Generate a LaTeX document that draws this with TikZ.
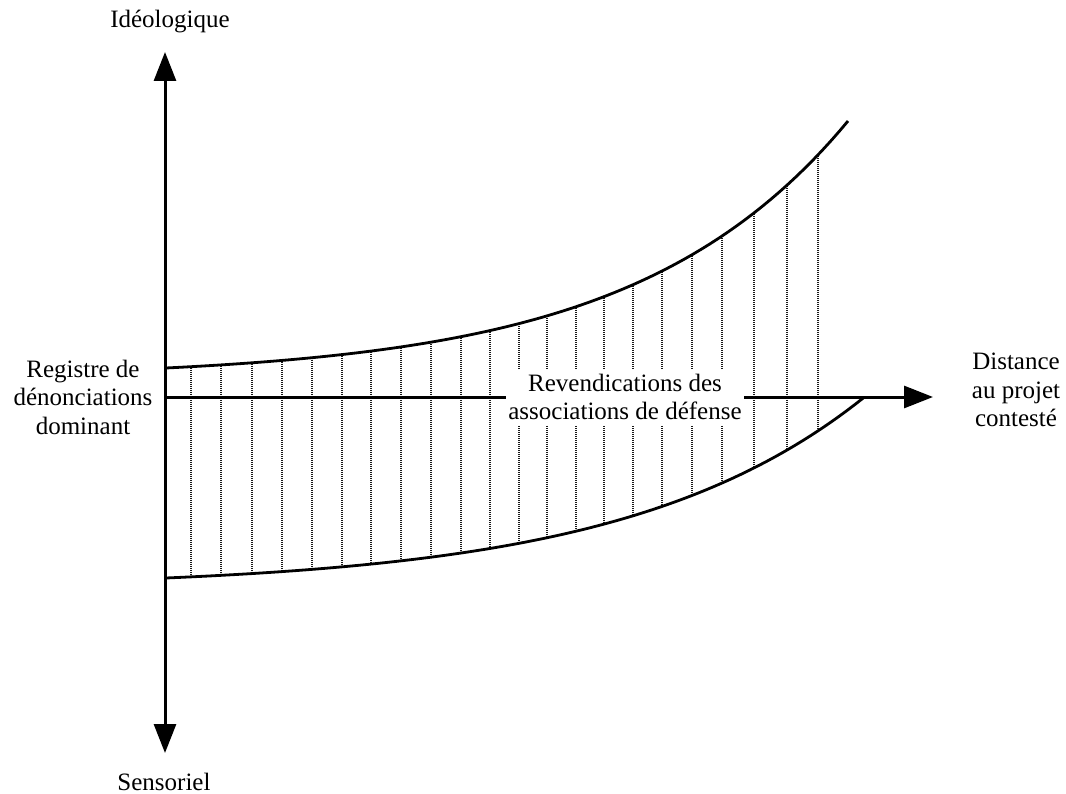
\documentclass[tikz,border=0pt]{standalone}
\usepackage{fontspec}
\setmainfont{Liberation Serif}
\usetikzlibrary{arrows.meta}
\begin{document}
\begin{tikzpicture}[x=1pt,y=-1pt,
  axis/.style={line width=3pt, -{Triangle[length=29pt,width=22pt]}},
  bound/.style={line width=2.8pt, line join=round},
  hatch/.style={line width=1.7pt, draw=black!90, dash pattern=on 1.2pt off 0.8pt},
  lbl/.style={font=\fontsize{25}{28.5}\selectfont, align=center, inner sep=0pt}]
\useasboundingbox (0,0) rectangle (1066,794);
\def\up(#1){368-10.44*(exp(0.0047*(#1-166))-1)}
\def\lo(#1){578-10.2*(exp(0.0042*(#1-166))-1)}
\coordinate (O) at (165,397);
\coordinate (T) at (165,52);
\coordinate (B) at (165,753);
\coordinate (R) at (933,397);
% hatching
\begin{scope}
  \clip plot[domain=166:848, samples=80] (\x,{\up(\x)}) -- plot[domain=864:166, samples=80] (\x,{\lo(\x)}) -- cycle;
  \foreach \x in {191,221,252,282,312,342,371,401,431,461,490,519,547,576,604,633,662,692,722,754,787,818}
    \draw[hatch] (\x,100) -- (\x,600);
\end{scope}
% boundaries
\draw[bound] plot[domain=166:848, samples=80] (\x,{\up(\x)});
\draw[bound] plot[domain=166:864, samples=80] (\x,{\lo(\x)});
% axes
\draw[axis] (O) -- (T);
\draw[axis] (O) -- (B);
\draw[axis] (O) -- (R);
% labels
\node[lbl, fill=white, inner xsep=2pt, inner ysep=5pt] (rev) at (625,397) {Revendications des\\associations de défense};
\node[lbl, anchor=base] (ideo) at (170,28) {Idéologique};
\node[lbl, anchor=base] (sens) at (164,790) {Sensoriel};
\node[lbl] (reg) at (83,397) {Registre de\\dénonciations\\dominant};
\node[lbl] (dist) at (1016,390) {Distance\\au projet\\contesté};
\end{tikzpicture}
\end{document}
